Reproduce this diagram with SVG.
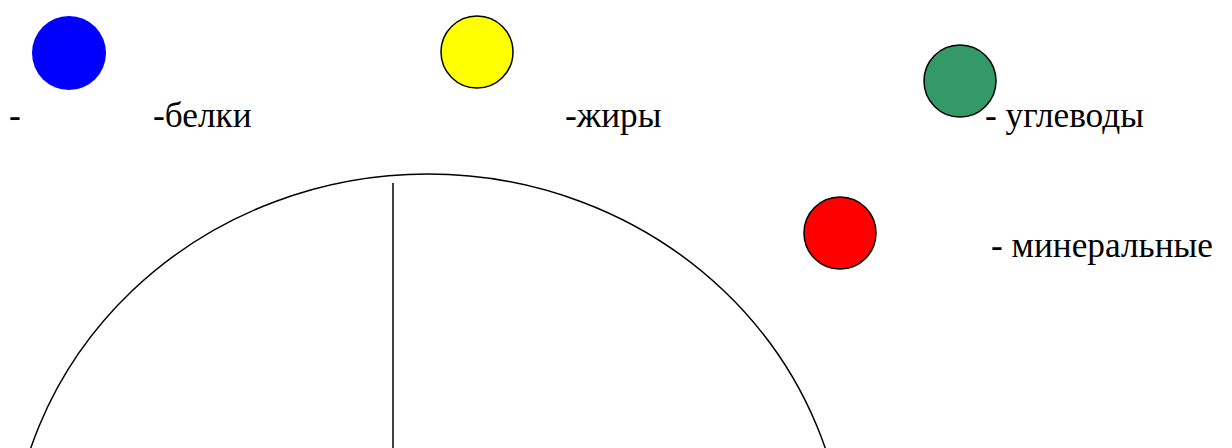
<svg xmlns="http://www.w3.org/2000/svg" width="1232" height="448" viewBox="0 0 1232 448">
<style>
  .lbl { font-family: 'Times New Roman', Tinos, 'Liberation Serif', serif; font-size: 35.3px; fill: #000; }
  .dot { stroke: #000; stroke-width: 1.5; }
  .shape { fill: none; stroke: #000; stroke-width: 1.5; }
</style>
<rect width="1232" height="448" fill="#fff"/>
<g id="legend-protein">
  <circle cx="69" cy="53" r="37" fill="#0000ff"/>
  <text class="lbl" x="9" y="127" font-family="'Times New Roman', Tinos, serif">-</text>
  <text class="lbl" x="153" y="127" font-family="'Times New Roman', Tinos, serif">-белки</text>
</g>
<g id="legend-fat">
  <circle class="dot" cx="477" cy="52" r="36" fill="#ffff00"/>
  <text class="lbl" x="565" y="127" font-family="'Times New Roman', Tinos, serif">-жиры</text>
</g>
<g id="legend-carb">
  <circle class="dot" cx="960" cy="81" r="36" fill="#339966"/>
  <text class="lbl" x="985" y="127" font-family="'Times New Roman', Tinos, serif">- углеводы</text>
</g>
<g id="legend-mineral">
  <circle class="dot" cx="840" cy="233" r="36" fill="#ff0000"/>
  <text class="lbl" x="991" y="257" font-family="'Times New Roman', Tinos, serif">- минеральные</text>
</g>
<g id="chart">
  <ellipse class="shape" cx="428" cy="572" rx="418" ry="398"/>
  <line class="shape" x1="393" y1="183" x2="393" y2="448"/>
</g>
</svg>
